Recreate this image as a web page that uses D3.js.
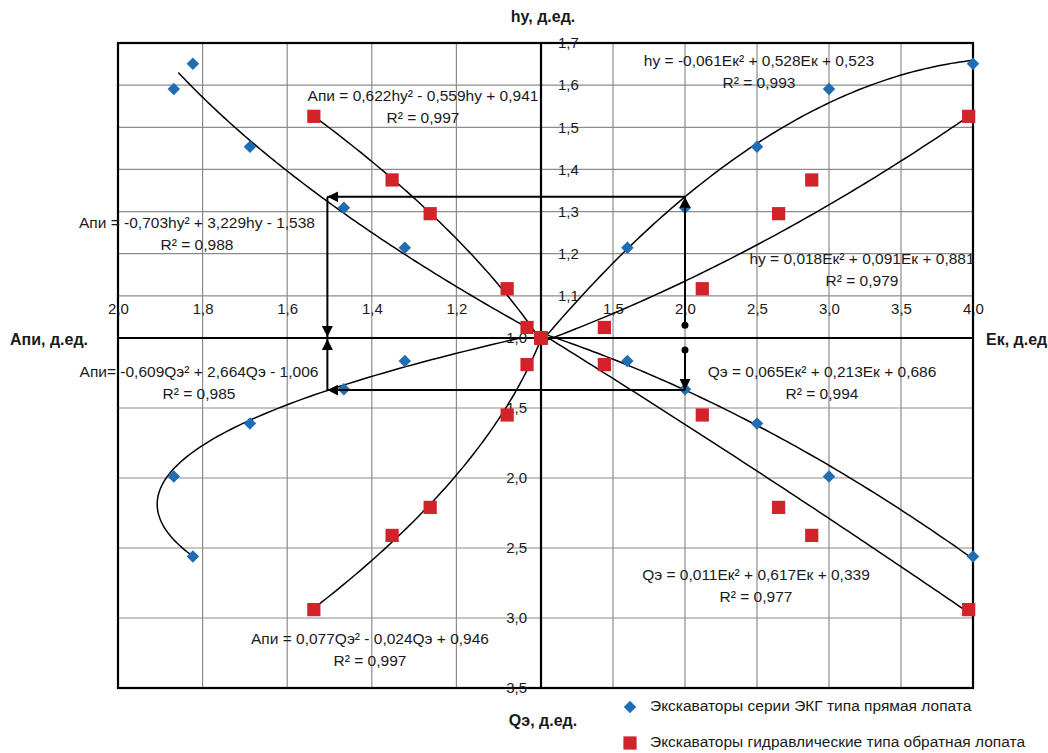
<!DOCTYPE html>
<html>
<head>
<meta charset="utf-8">
<script src="https://cdn.jsdelivr.net/npm/d3@7"></script>
<style>
  html, body { margin: 0; padding: 0; background: #fff; }
  svg text { font-family: "Liberation Sans", Arial, sans-serif; fill: #1a1a1a; }
</style>
</head>
<body>
<div id="chart"></div>
<script>
// --- data (each excavator: Ek, hy, Qe, Api) ---
const ekgEk  = [1.0, 1.60, 2.00, 2.50, 3.00, 4.00];
const ekgHy  = [1.0, 1.214, 1.309, 1.454, 1.591, 1.651];
const ekgQe  = [1.0, 1.164, 1.366, 1.610, 1.990, 2.560];
const ekgApi = [1.0, 1.322, 1.466, 1.688, 1.868, 1.823];

const hydEk  = [1.0, 1.44, 2.12, 2.65, 2.88, 3.97];
const hydHy  = [1.0, 1.025, 1.117, 1.295, 1.375, 1.526];
const hydQe  = [1.0, 1.19, 1.55, 2.21, 2.41, 2.94];
const hydApi = [1.0, 1.033, 1.080, 1.262, 1.352, 1.537];

// trend line coefficients [a, b, c] for a*x^2 + b*x + c, and R^2
const fitHyEkEkg   = [-0.061, 0.528, 0.523],  r2HyEkEkg = 0.993;
const fitHyEkHyd   = [0.018, 0.091, 0.881],   r2HyEkHyd = 0.979;
const fitQeEkEkg   = [0.065, 0.213, 0.686],   r2QeEkEkg = 0.994;
const fitQeEkHyd   = [0.011, 0.617, 0.339],   r2QeEkHyd = 0.977;
const fitApiHyEkg  = [-0.703, 3.229, -1.538], r2ApiHyEkg = 0.988;
const fitApiHyHyd  = [0.622, -0.559, 0.941],  r2ApiHyHyd = 0.997;
const fitApiQeEkg  = [-0.609, 2.664, -1.006], r2ApiQeEkg = 0.985;
const fitApiQeHyd  = [0.077, -0.024, 0.946],  r2ApiQeHyd = 0.997;

// tick values
const ekTicks  = [1.5, 2.0, 2.5, 3.0, 3.5, 4.0];
const apiTicks = [1.2, 1.4, 1.6, 1.8, 2.0];
const hyTicks  = [1.1, 1.2, 1.3, 1.4, 1.5, 1.6, 1.7];
const qeTicks  = [1.0, 1.5, 2.0, 2.5, 3.0, 3.5];

// worked example of the nomogram (Ek = 2.0)
const exEk = 2.0, exHy = 1.335, exQe = 1.372, exApi = 1.505;
const exHyStart = 1.03, exQeStart = 1.085;

const legendNames = ['Экскаваторы серии ЭКГ типа прямая лопата',
                     'Экскаваторы гидравлические типа обратная лопата'];

const width = 1048, height = 753;
const cx = 541, cy = 338, pLeft = 118, pRight = 973, pTop = 43, pBottom = 688;
const blue = '#1f6db3', red = '#d2232a';

const xEk  = d3.scaleLinear().domain([1, 4]).range([cx, pRight]);
const xApi = d3.scaleLinear().domain([1, 2]).range([cx, pLeft]);
const yHy  = d3.scaleLinear().domain([1, 1.7]).range([cy, pTop]);
const yQe  = d3.scaleLinear().domain([1, 3.5]).range([cy, pBottom]);

const fmt = d => d3.format('.1f')(d).replace('.', ',');
const num = (v, d) => d3.format('.' + d + 'f')(Math.abs(v)).replace('.', ',');
const quad = c => x => c[0] * x * x + c[1] * x + c[2];
const eqText = (lhs, v, c, sep) => {
  const s = (x) => x < 0 ? ' - ' : ' + ';
  return lhs + (sep || ' = ') + (c[0] < 0 ? '-' : '') + num(c[0], 3) + v + '²' +
    s(c[1]) + num(c[1], 3) + v + s(c[2]) + num(c[2], 3);
};

const svg = d3.select('#chart').append('svg')
  .attr('width', width).attr('height', height);
svg.append('rect').attr('width', width).attr('height', height).attr('fill', '#fff');

// arrow marker
svg.append('defs').append('marker')
  .attr('id', 'arr').attr('viewBox', '0 0 10 10').attr('refX', 10).attr('refY', 5)
  .attr('markerWidth', 11).attr('markerHeight', 11).attr('markerUnits', 'userSpaceOnUse')
  .attr('orient', 'auto')
  .append('path').attr('d', 'M0,0L10,5L0,10z').attr('fill', '#000');

// grid
const grid = svg.append('g').attr('stroke', '#8c8c8c').attr('stroke-width', 1.2);
ekTicks.slice(0, -1).forEach(t => grid.append('line')
  .attr('x1', xEk(t)).attr('x2', xEk(t)).attr('y1', pTop).attr('y2', pBottom));
apiTicks.slice(0, -1).forEach(t => grid.append('line')
  .attr('x1', xApi(t)).attr('x2', xApi(t)).attr('y1', pTop).attr('y2', pBottom));
hyTicks.slice(0, -1).forEach(t => grid.append('line')
  .attr('x1', pLeft).attr('x2', pRight).attr('y1', yHy(t)).attr('y2', yHy(t)));
qeTicks.slice(1, -1).forEach(t => grid.append('line')
  .attr('x1', pLeft).attr('x2', pRight).attr('y1', yQe(t)).attr('y2', yQe(t)));

// frame + central axes
svg.append('rect').attr('x', pLeft).attr('y', pTop)
  .attr('width', pRight - pLeft).attr('height', pBottom - pTop)
  .attr('fill', 'none').attr('stroke', '#000').attr('stroke-width', 2.2);
svg.append('line').attr('x1', pLeft).attr('x2', pRight).attr('y1', cy).attr('y2', cy)
  .attr('stroke', '#000').attr('stroke-width', 2.2);
svg.append('line').attr('x1', cx).attr('x2', cx).attr('y1', pTop).attr('y2', pBottom)
  .attr('stroke', '#000').attr('stroke-width', 2.2);

// tick labels via d3 axes
const axisStyle = g => {
  g.select('.domain').remove();
  g.selectAll('text').style('font-size', '15px').attr('fill', '#333')
    .style('font-family', '"Liberation Sans", Arial, sans-serif');
};
svg.append('g').attr('transform', `translate(0,${cy})`)
  .call(d3.axisTop(xEk).tickValues(ekTicks).tickSize(0).tickPadding(24).tickFormat(fmt))
  .call(axisStyle);
svg.append('g').attr('transform', `translate(0,${cy})`)
  .call(d3.axisTop(xApi).tickValues(apiTicks).tickSize(0).tickPadding(24).tickFormat(fmt))
  .call(axisStyle);
svg.append('g').attr('transform', `translate(${cx},0)`)
  .call(d3.axisRight(yHy).tickValues(hyTicks).tickSize(0).tickPadding(17).tickFormat(fmt))
  .call(axisStyle);
svg.append('g').attr('transform', `translate(${cx},0)`)
  .call(d3.axisLeft(yQe).tickValues(qeTicks).tickSize(0).tickPadding(14).tickFormat(fmt))
  .call(axisStyle);

// axis titles
const title = (x, y, t, anchor) => svg.append('text').attr('x', x).attr('y', y)
  .attr('text-anchor', anchor).attr('dominant-baseline', 'middle')
  .style('font-size', '16px').style('font-weight', 'bold').text(t);
title(cx + 2, 18, 'hy, д.ед.', 'middle');
title(10, cy + 3, 'Апи, д.ед.', 'start');
title(986, cy + 3, 'Ек, д.ед', 'start');
title(cx + 2, 722, 'Qэ, д.ед.', 'middle');

// trend curves
const curve = (f, x0, x1, px, py, swap) => {
  const pts = d3.range(0, 1.0001, 0.01).map(t => x0 + (x1 - x0) * t);
  const line = d3.line()
    .x(v => swap ? px(f(v)) : px(v))
    .y(v => swap ? py(v) : py(f(v)))
    .curve(d3.curveLinear);
  svg.append('path').datum(pts).attr('d', line)
    .attr('fill', 'none').attr('stroke', '#000').attr('stroke-width', 1.5);
};
curve(quad(fitHyEkEkg), 1, 4, xEk, yHy);
curve(quad(fitHyEkHyd), 1, 3.97, xEk, yHy);
curve(quad(fitQeEkEkg), 1, 4, xEk, yQe);
curve(quad(fitQeEkHyd), 1, 3.97, xEk, yQe);
curve(quad(fitApiHyEkg), 1, 1.63, xApi, yHy, true);
curve(quad(fitApiHyHyd), 1, 1.527, xApi, yHy, true);
curve(quad(fitApiQeEkg), 1, 2.56, xApi, yQe, true);
curve(quad(fitApiQeHyd), 1, 2.94, xApi, yQe, true);

// markers
const diamond = d3.symbol().type(d3.symbolSquare).size(78);
const square = d3.symbol().type(d3.symbolSquare).size(175);
const drawSeries = (xs, ys, px, py, kind) => {
  svg.append('g').selectAll('path').data(xs.map((v, i) => [v, ys[i]])).enter()
    .append('path')
    .attr('d', kind === 'd' ? diamond : square)
    .attr('transform', d => `translate(${px(d[0])},${py(d[1])})` + (kind === 'd' ? ' rotate(45)' : ''))
    .attr('fill', kind === 'd' ? blue : red);
};
drawSeries(ekgEk, ekgHy, xEk, yHy, 'd');
drawSeries(ekgEk, ekgQe, xEk, yQe, 'd');
drawSeries(ekgApi, ekgHy, xApi, yHy, 'd');
drawSeries(ekgApi, ekgQe, xApi, yQe, 'd');
drawSeries(hydEk, hydHy, xEk, yHy, 's');
drawSeries(hydEk, hydQe, xEk, yQe, 's');
drawSeries(hydApi, hydHy, xApi, yHy, 's');
drawSeries(hydApi, hydQe, xApi, yQe, 's');

// nomogram arrows
const arrow = (x1, y1, x2, y2, dot) => {
  svg.append('line').attr('x1', x1).attr('y1', y1).attr('x2', x2).attr('y2', y2)
    .attr('stroke', '#000').attr('stroke-width', 2).attr('marker-end', 'url(#arr)');
  if (dot) svg.append('circle').attr('cx', x1).attr('cy', y1).attr('r', 3.5).attr('fill', '#000');
};
arrow(xEk(exEk), yHy(exHyStart), xEk(exEk), yHy(exHy), true);
arrow(xEk(exEk), yHy(exHy), xApi(exApi), yHy(exHy));
arrow(xApi(exApi), yHy(exHy), xApi(exApi), yHy(1) - 1);
arrow(xEk(exEk), yQe(exQeStart), xEk(exEk), yQe(exQe), true);
arrow(xEk(exEk), yQe(exQe), xApi(exApi), yQe(exQe));
arrow(xApi(exApi), yQe(exQe), xApi(exApi), yQe(1) + 1);

// equation labels
const label = (x, y, t1, r2) => {
  const g = svg.append('g').style('font-size', '15.5px');
  g.append('text').attr('x', x).attr('y', y).attr('text-anchor', 'middle')
    .attr('dominant-baseline', 'middle').text(t1);
  g.append('text').attr('x', x).attr('y', y + 22).attr('text-anchor', 'middle')
    .attr('dominant-baseline', 'middle').text('R² = ' + num(r2, 3));
};
label(759, 62, eqText('hy', 'Ек', fitHyEkEkg), r2HyEkEkg);
label(862, 260, eqText('hy', 'Ек', fitHyEkHyd), r2HyEkHyd);
label(822, 373, eqText('Qэ', 'Ек', fitQeEkEkg), r2QeEkEkg);
label(756, 576, eqText('Qэ', 'Ек', fitQeEkHyd), r2QeEkHyd);
label(423, 97, eqText('Апи', 'hy', fitApiHyHyd), r2ApiHyHyd);
label(197, 224, eqText('Апи', 'hy', fitApiHyEkg), r2ApiHyEkg);
label(199, 373, eqText('Апи', 'Qэ', fitApiQeEkg, '= '), r2ApiQeEkg);
label(370, 640, eqText('Апи', 'Qэ', fitApiQeHyd), r2ApiQeHyd);

// legend
const lg = svg.append('g');
lg.append('path').attr('d', diamond).attr('fill', blue)
  .attr('transform', 'translate(630,707) rotate(45)');
lg.append('path').attr('d', square).attr('fill', red)
  .attr('transform', 'translate(630,743)');
lg.selectAll('text.lgt').data(legendNames).enter().append('text')
  .attr('x', 650).attr('y', (d, i) => 707 + i * 36)
  .attr('dominant-baseline', 'middle').style('font-size', '15.5px').text(d => d);
</script>
</body>
</html>
